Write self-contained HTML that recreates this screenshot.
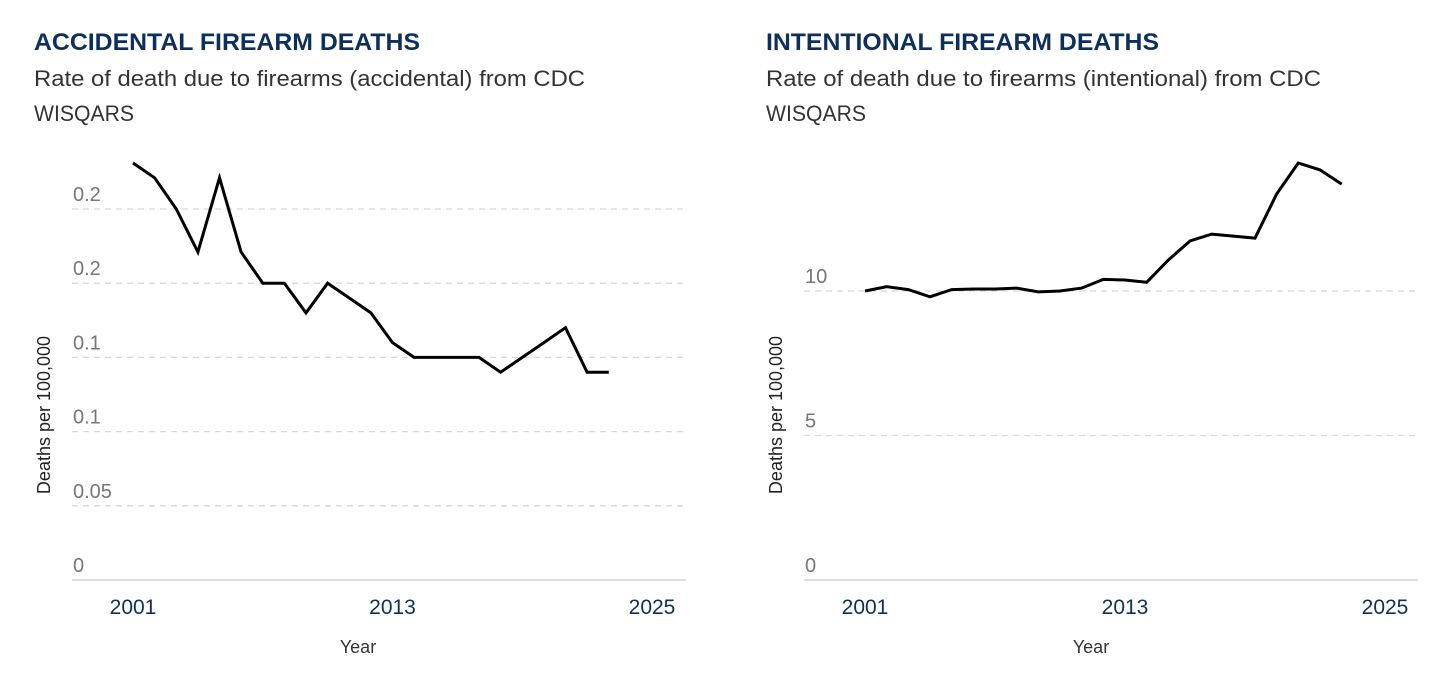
<!DOCTYPE html>
<html><head><meta charset="utf-8"><style>
body{margin:0;background:#fff;width:1456px;height:681px;overflow:hidden;font-family:"Liberation Sans",sans-serif}
svg{display:block}
</style></head><body>
<svg id="s" width="1456" height="681"></svg>
<script>
const years=[2001,2002,2003,2004,2005,2006,2007,2008,2009,2010,2011,2012,2013,2014,2015,2016,2017,2018,2019,2020,2021,2022,2023];
const accidental=[0.281,0.271,0.25,0.221,0.271,0.221,0.2,0.2,0.18,0.2,0.19,0.18,0.16,0.15,0.15,0.15,0.15,0.14,0.15,0.16,0.17,0.14,0.14];
const intentional=[10.0,10.15,10.05,9.8,10.05,10.07,10.07,10.1,9.97,10.0,10.1,10.4,10.38,10.3,11.07,11.73,11.97,11.9,11.83,13.36,14.43,14.19,13.7];
const accTickVals=[0,0.05,0.1,0.15,0.2,0.25];
const accTickLabels=["0","0.05","0.1","0.1","0.2","0.2"];
const intTickVals=[0,5,10];
const intTickLabels=["0","5","10"];
const xTickVals=[2001,2013,2025];
const NS="http://www.w3.org/2000/svg";
const svg=document.getElementById('s');
function mk(tag,attrs,parent){const e=document.createElementNS(NS,tag);for(const k in attrs)e.setAttribute(k,attrs[k]);(parent||svg).appendChild(e);return e;}
function panel(cfg){
  const g=mk('g',{});
  
  
  const x=v=>cfg.x0+(v-2001)*(cfg.x1-cfg.x0)/24;
  const y=v=>580-(v/cfg.yStep)*cfg.pxStep;
  let t=mk('text',{x:cfg.left-38,y:50,fill:'#0d2f5e','font-size':24,'font-weight':'bold','textLength':cfg.titleLen,'lengthAdjust':'spacingAndGlyphs'},g);
  t.textContent=cfg.title;
  
  
  t=mk('text',{x:cfg.left-38,y:86,fill:'#333','font-size':22,'textLength':cfg.subLen,'lengthAdjust':'spacingAndGlyphs'},g);
  t.textContent=cfg.sub1;
  
  
  t=mk('text',{x:cfg.left-38,y:121,fill:'#333','font-size':22,'textLength':100,'lengthAdjust':'spacingAndGlyphs'},g);
  t.textContent='WISQARS';
  
  
  cfg.ticks.forEach((v,i)=>{
    if(v!==0){const l=mk('line',{x1:cfg.left,x2:cfg.right,y1:y(v),y2:y(v),stroke:'#d8d8d8','stroke-dasharray':'6,5','stroke-width':1.3},g);
      
      }
    const tt=mk('text',{x:cfg.left+1,y:y(v)-8,fill:'#777','font-size':20},g);
    tt.textContent=cfg.labels[i];
    
    
  });
  const ax=mk('line',{x1:cfg.left,x2:cfg.right,y1:580,y2:580,stroke:'#ccc','stroke-width':1.3},g);
  
  
  xTickVals.forEach(v=>{
    const tt=mk('text',{x:x(v),y:614,fill:'#0d2f5e','font-size':21,'text-anchor':'middle'},g);
    tt.textContent=v;
    
    
  });
  t=mk('text',{x:cfg.yearX,y:653,fill:'#333','font-size':18,'text-anchor':'middle'},g);
  t.textContent='Year';
  
  
  t=mk('text',{x:0,y:0,fill:'#222','font-size':18,'text-anchor':'middle',transform:`translate(${cfg.left-22},415) rotate(-90)`},g);
  t.textContent='Deaths per 100,000';
  
  
  const d=cfg.data.map((v,i)=>(i?'L':'M')+x(years[i]).toFixed(1)+','+y(v).toFixed(1)).join(' ');
  const p=mk('path',{d:d,fill:'none',stroke:'#000','stroke-width':3,'stroke-linejoin':'miter'},g);
  
  
}
panel({id:'accidental',title:'ACCIDENTAL FIREARM DEATHS',sub1:'Rate of death due to firearms (accidental) from CDC',titleLen:386,subLen:551,yearX:358,left:72,right:686,x0:133,x1:652,yStep:0.05,pxStep:74.2,ticks:accTickVals,labels:accTickLabels,data:accidental});
panel({id:'intentional',title:'INTENTIONAL FIREARM DEATHS',sub1:'Rate of death due to firearms (intentional) from CDC',titleLen:393,subLen:555,yearX:1091,left:804,right:1418,x0:865,x1:1385,yStep:5,pxStep:144.5,ticks:intTickVals,labels:intTickLabels,data:intentional});
</script>
</body></html>
